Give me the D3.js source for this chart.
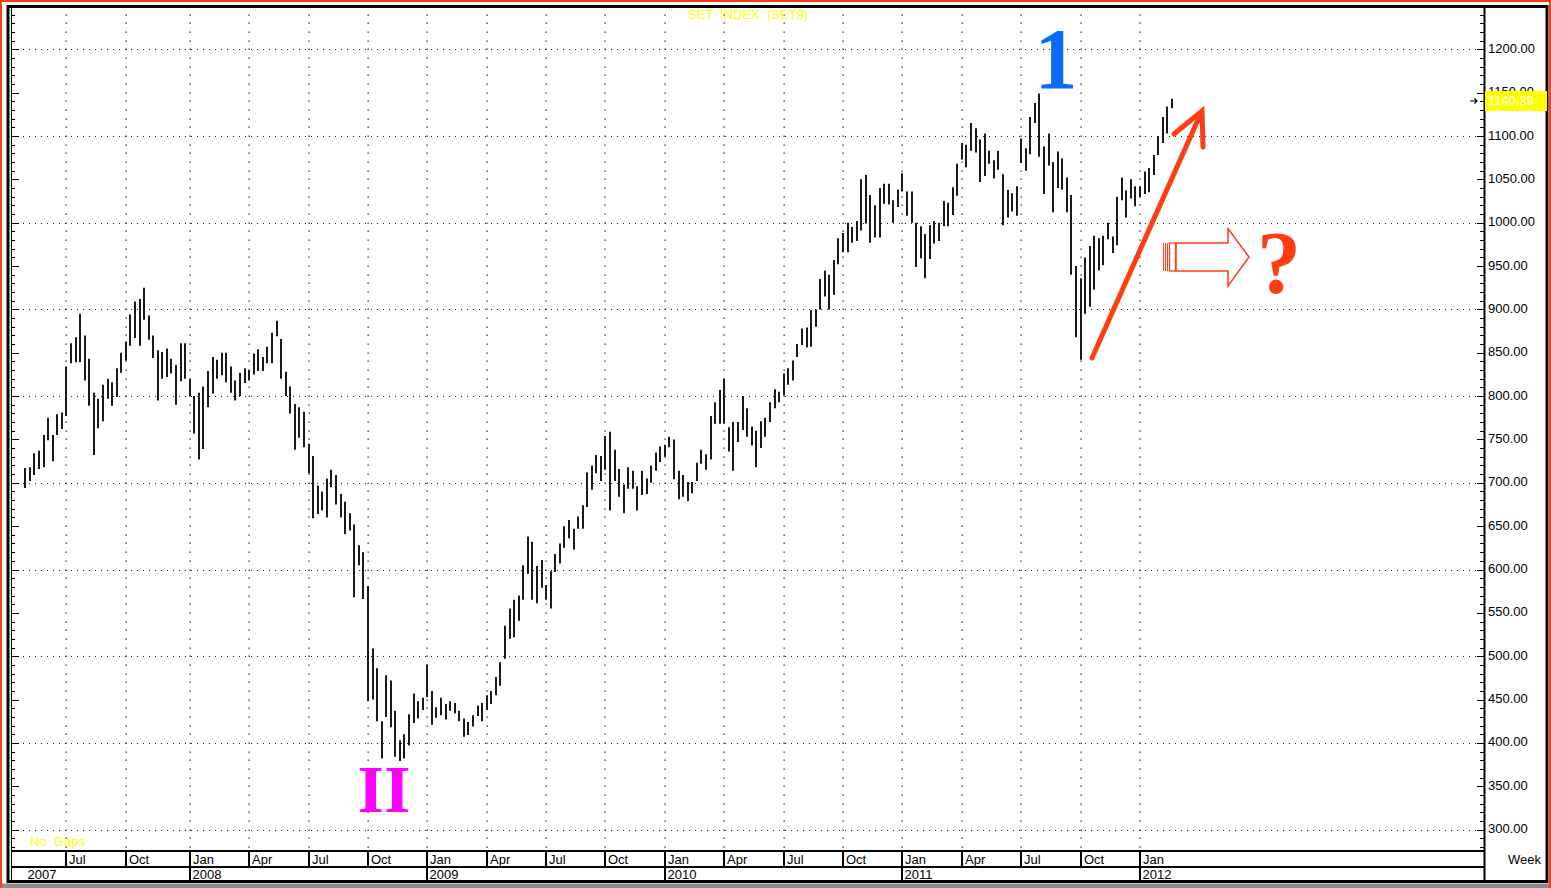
<!DOCTYPE html>
<meta charset="utf-8">
<style>
  body { margin: 0; background: #fff; }
  text { font-family: "Liberation Sans", Arial, sans-serif; }
</style>

<!-- Load d3.js -->
<script src="https://d3js.org/d3.v7.min.js"></script>

<div id="my_dataviz"></div>

<script>

// weekly high/low of the SET index, first bar = week of Mon 30 Apr 2007
var firstWeek = new Date(2007, 3, 30);
var highs = [
  717, 718, 734, 737, 755, 775, 755, 779, 781, 834, 861, 868, 895, 870, 843, 804,
  797, 813, 820, 816, 832, 850, 863, 894, 909, 912, 925, 893, 870, 853, 851, 855,
  843, 836, 861, 861, 820, 800, 804, 811, 829, 845, 842, 850, 850, 834, 818, 827,
  832, 830, 849, 854, 845, 857, 873, 887, 866, 828, 811, 791, 787, 782, 745, 731,
  697, 690, 705, 715, 709, 687, 678, 665, 652, 628, 620, 581, 509, 486, 425, 478,
  472, 437, 403, 410, 433, 457, 448, 452, 490, 460, 441, 452, 445, 448, 446, 437,
  428, 424, 432, 443, 446, 455, 460, 476, 493, 535, 555, 565, 570, 605, 638, 632,
  604, 611, 582, 598, 618, 630, 650, 657, 647, 661, 674, 712, 720, 732, 731, 754,
  759, 738, 716, 698, 718, 714, 696, 714, 705, 720, 735, 742, 744, 753, 750, 714,
  709, 701, 701, 723, 738, 733, 777, 793, 807, 820, 764, 770, 770, 800, 786, 765,
  760, 771, 775, 793, 808, 805, 826, 832, 841, 860, 878, 879, 899, 900, 935, 945,
  940, 957, 982, 988, 1000, 995, 1002, 1050, 1055, 1032, 1020, 1040, 1045, 1045, 1026, 1038,
  1057, 1036, 1036, 1000, 996, 987, 997, 1002, 1000, 1025, 1023, 1041, 1068, 1092, 1090, 1115,
  1109, 1096, 1103, 1083, 1072, 1083, 1056, 1038, 1034, 1042, 1097, 1086, 1122, 1138, 1149, 1088,
  1103, 1070, 1082, 1074, 1052, 1032, 950, 936, 960, 973, 985, 982, 985, 1000, 984, 1030,
  1052, 1037, 1050, 1042, 1042, 1059, 1063, 1078, 1100, 1122, 1134, 1143
];
var lows = [
  694, 702, 709, 716, 718, 749, 725, 755, 762, 777, 838, 839, 839, 818, 789, 732,
  763, 771, 797, 789, 799, 827, 841, 858, 867, 858, 888, 865, 844, 795, 820, 822,
  826, 790, 817, 820, 800, 757, 727, 739, 787, 803, 820, 824, 816, 804, 795, 800,
  815, 818, 825, 829, 829, 838, 838, 869, 820, 800, 780, 738, 752, 741, 711, 659,
  664, 668, 660, 695, 675, 660, 641, 645, 568, 605, 566, 448, 450, 425, 382, 430,
  418, 384, 379, 382, 397, 423, 428, 438, 453, 421, 429, 432, 427, 437, 434, 425,
  407, 409, 419, 431, 425, 438, 445, 455, 466, 497, 520, 522, 541, 565, 595, 565,
  561, 579, 565, 555, 597, 607, 625, 636, 623, 647, 647, 672, 692, 711, 702, 715,
  668, 702, 684, 665, 693, 693, 668, 686, 687, 700, 714, 724, 730, 741, 704, 681,
  684, 679, 688, 702, 722, 715, 727, 768, 768, 768, 736, 714, 747, 761, 753, 743,
  718, 740, 753, 770, 786, 793, 801, 813, 818, 845, 859, 856, 857, 880, 900, 915,
  900, 917, 952, 966, 966, 977, 979, 991, 999, 977, 983, 983, 1022, 1021, 1000, 1018,
  1036, 1008, 1000, 949, 959, 936, 958, 976, 979, 996, 996, 1009, 1031, 1073, 1064, 1083,
  1081, 1047, 1054, 1068, 1051, 1061, 997, 1006, 1013, 1008, 1069, 1060, 1079, 1115, 1076, 1033,
  1066, 1012, 1040, 1038, 1012, 940, 868, 842, 895, 903, 923, 945, 951, 981, 965, 974,
  1026, 1006, 1028, 1019, 1030, 1033, 1035, 1055, 1078, 1092, 1103, 1132
];
var lastClose = 1140.39;
var priceLabels = [300, 350, 400, 450, 500, 550, 600, 650, 700, 750, 800, 850, 900, 950, 1000, 1050, 1100, 1150, 1200];
var gridValues = [300, 400, 500, 600, 700, 800, 900, 1000, 1100, 1200];
var yearLabels = ["2007", "2008", "2009", "2010", "2011", "2012"];

var width = 1551, height = 888;
var plot = {left: 12, right: 1484, top: 8, bottom: 850};
var orange = "#ff3d12";

var svg = d3.select("#my_dataviz")
  .append("svg")
    .attr("width", width)
    .attr("height", height);

var x = d3.scaleTime()
  .domain([firstWeek, new Date(2012, 0, 2)])
  .range([25.3, 1140]);
var y = d3.scaleLinear()
  .domain([300, 1200])
  .range([829.6, 49.3]);

var weeks = highs.map(function(h, i) {
  return {date: d3.timeDay.offset(firstWeek, 7 * i), high: h, low: lows[i]};
});

// quarter separators sit on the first Monday of Jan/Apr/Jul/Oct
var quarters = d3.timeMonth.every(3).range(new Date(2007, 6, 1), new Date(2012, 0, 2))
  .map(function(m) { return {month: m, date: d3.timeMonday.ceil(m)}; });
var fmtMonth = d3.timeFormat("%b");

// frames
svg.append("rect")
  .attr("x", 1).attr("y", 1).attr("width", width - 2).attr("height", height + 4)
  .attr("fill", "none").attr("stroke", orange).attr("stroke-width", 2);
svg.append("rect")
  .attr("x", 2).attr("y", 883.5).attr("width", width - 4).attr("height", 5)
  .attr("fill", "#8c8c8c");
svg.append("rect")
  .attr("x", 8).attr("y", 6.5).attr("width", 1539).attr("height", 875)
  .attr("fill", "none").attr("stroke", "#000").attr("stroke-width", 3);
svg.append("line")
  .attr("x1", 11.5).attr("x2", 11.5).attr("y1", plot.top).attr("y2", 881)
  .attr("stroke", "#000");
svg.append("line")
  .attr("x1", plot.right + 0.5).attr("x2", plot.right + 0.5).attr("y1", plot.top).attr("y2", 881)
  .attr("stroke", "#000").attr("stroke-width", 2);
[plot.bottom + 1, 867].forEach(function(yy) {
  svg.append("line")
    .attr("x1", plot.left).attr("x2", plot.right).attr("y1", yy).attr("y2", yy)
    .attr("stroke", "#000").attr("stroke-width", 2);
});

// horizontal dotted grid
svg.selectAll("line.hgrid")
  .data(gridValues)
  .enter()
  .append("line")
    .attr("x1", plot.left + 11)
    .attr("x2", plot.right - 7)
    .attr("y1", function(d) { return Math.round(y(d)) + 0.5; })
    .attr("y2", function(d) { return Math.round(y(d)) + 0.5; })
    .attr("stroke", "#222")
    .attr("stroke-dasharray", "1,5");

// vertical dotted grid: one dot every 10 points
var dotValues = d3.range(280, 1250, 10);
quarters.forEach(function(q) {
  var xx = Math.round(x(q.date));
  svg.selectAll(null)
    .data(dotValues)
    .enter()
    .append("rect")
      .attr("x", xx - 0.5)
      .attr("y", function(d) { return Math.round(y(d)) - 0.5; })
      .attr("width", 1.3).attr("height", 1.3)
      .attr("fill", "#222");
});

// ticks on left and right edges
dotValues.forEach(function(v) {
  var yy = Math.round(y(v)) + 0.5;
  var major = v % 50 === 0;
  svg.append("line")
    .attr("x1", plot.left).attr("x2", plot.left + (major ? 7 : 3))
    .attr("y1", yy).attr("y2", yy).attr("stroke", "#000");
  svg.append("line")
    .attr("x1", plot.right).attr("x2", plot.right - (major ? 7 : 4))
    .attr("y1", yy).attr("y2", yy).attr("stroke", "#000");
});

// price labels
svg.selectAll("text.price")
  .data(priceLabels)
  .enter()
  .append("text")
    .attr("x", plot.right + 4)
    .attr("y", function(d) { return y(d) + 3.5; })
    .attr("font-size", "13px")
    .attr("fill", "#000")
    .text(d3.format(".2f"));

// last price box
svg.append("rect")
  .attr("x", plot.right + 1).attr("y", y(lastClose) - 10)
  .attr("width", 62).attr("height", 20)
  .attr("fill", "#ffff00");
svg.append("text")
  .attr("x", plot.right + 4).attr("y", y(lastClose) + 4.5)
  .attr("font-size", "13px").attr("fill", "#fff")
  .text(d3.format(".2f")(lastClose));
svg.append("path")
  .attr("d", "M1470," + y(lastClose) + "H1477M1474.5," + (y(lastClose) - 2.5) +
             "L1477," + y(lastClose) + "L1474.5," + (y(lastClose) + 2.5))
  .attr("fill", "none").attr("stroke", "#000").attr("stroke-width", 1.2);

// bars
svg.selectAll("line.bar")
  .data(weeks)
  .enter()
  .append("line")
    .attr("x1", function(d) { return Math.round(x(d.date)); })
    .attr("x2", function(d) { return Math.round(x(d.date)); })
    .attr("y1", function(d) { return y(d.high); })
    .attr("y2", function(d) { return y(d.low); })
    .attr("stroke", "#1a1a1a")
    .attr("stroke-width", 2);

// month axis
quarters.forEach(function(q) {
  var xx = Math.round(x(q.date));
  var isJan = q.month.getMonth() === 0;
  svg.append("line")
    .attr("x1", xx).attr("x2", xx)
    .attr("y1", plot.bottom).attr("y2", isJan ? 881 : 867)
    .attr("stroke", "#000").attr("stroke-width", 2);
  svg.append("text")
    .attr("x", xx + 3).attr("y", 864)
    .attr("font-size", "13px")
    .text(fmtMonth(q.month));
});

// year labels
yearLabels.forEach(function(yr) {
  var start = yr === "2007" ? firstWeek : d3.timeMonday.ceil(new Date(+yr, 0, 1));
  svg.append("text")
    .attr("x", Math.round(x(start)) + 2.5).attr("y", 879)
    .attr("font-size", "13px")
    .text(yr);
});

svg.append("text")
  .attr("x", 1541).attr("y", 864)
  .attr("text-anchor", "end").attr("font-size", "13px")
  .text("Week");

// yellow captions
svg.append("text")
  .attr("x", 748).attr("y", 19)
  .attr("text-anchor", "middle").attr("font-size", "13px")
  .attr("fill", "#ffff00").style("white-space", "pre")
  .text("SET  INDEX  (SET9)");
svg.append("text")
  .attr("x", 30).attr("y", 846)
  .attr("font-size", "13px")
  .attr("fill", "#ffff00").style("white-space", "pre")
  .text("No  Gaps");

// annotations
var serif = "'Liberation Serif', 'Times New Roman', serif";
svg.append("text")
  .attr("x", 1056).attr("y", 88)
  .attr("text-anchor", "middle")
  .style("font-family", serif).style("font-weight", "bold").style("font-size", "86px")
  .attr("fill", "#0a6cf5")
  .text("1");
svg.append("text")
  .attr("x", 384).attr("y", 812)
  .attr("text-anchor", "middle")
  .style("font-family", serif).style("font-weight", "bold").style("font-size", "68px")
  .attr("fill", "#ff00ff")
  .text("II");
svg.append("text")
  .attr("x", 1279).attr("y", 292)
  .attr("text-anchor", "middle")
  .style("font-family", serif).style("font-weight", "bold").style("font-size", "88px")
  .attr("fill", orange)
  .text("?");

svg.append("line")
  .attr("x1", 1092).attr("y1", 358).attr("x2", 1201).attr("y2", 113)
  .attr("stroke", orange).attr("stroke-width", 5).attr("stroke-linecap", "round");
svg.append("path")
  .attr("d", "M1174,134L1202,111L1203,147")
  .attr("fill", "none").attr("stroke", orange).attr("stroke-width", 5)
  .attr("stroke-linecap", "round").attr("stroke-linejoin", "miter");

svg.append("path")
  .attr("d", "M1176,243H1228V228.5L1249,257L1228,286V271H1176Z")
  .attr("fill", "none").attr("stroke", orange).attr("stroke-width", 1.5);
svg.append("rect")
  .attr("x", 1169.5).attr("y", 243).attr("width", 6).attr("height", 28)
  .attr("fill", "none").attr("stroke", orange).attr("stroke-width", 1.3);
[1163.5, 1165.5, 1167.5].forEach(function(xx) {
  svg.append("line")
    .attr("x1", xx).attr("x2", xx).attr("y1", 243).attr("y2", 271)
    .attr("stroke", orange).attr("stroke-width", 1);
});

</script>
